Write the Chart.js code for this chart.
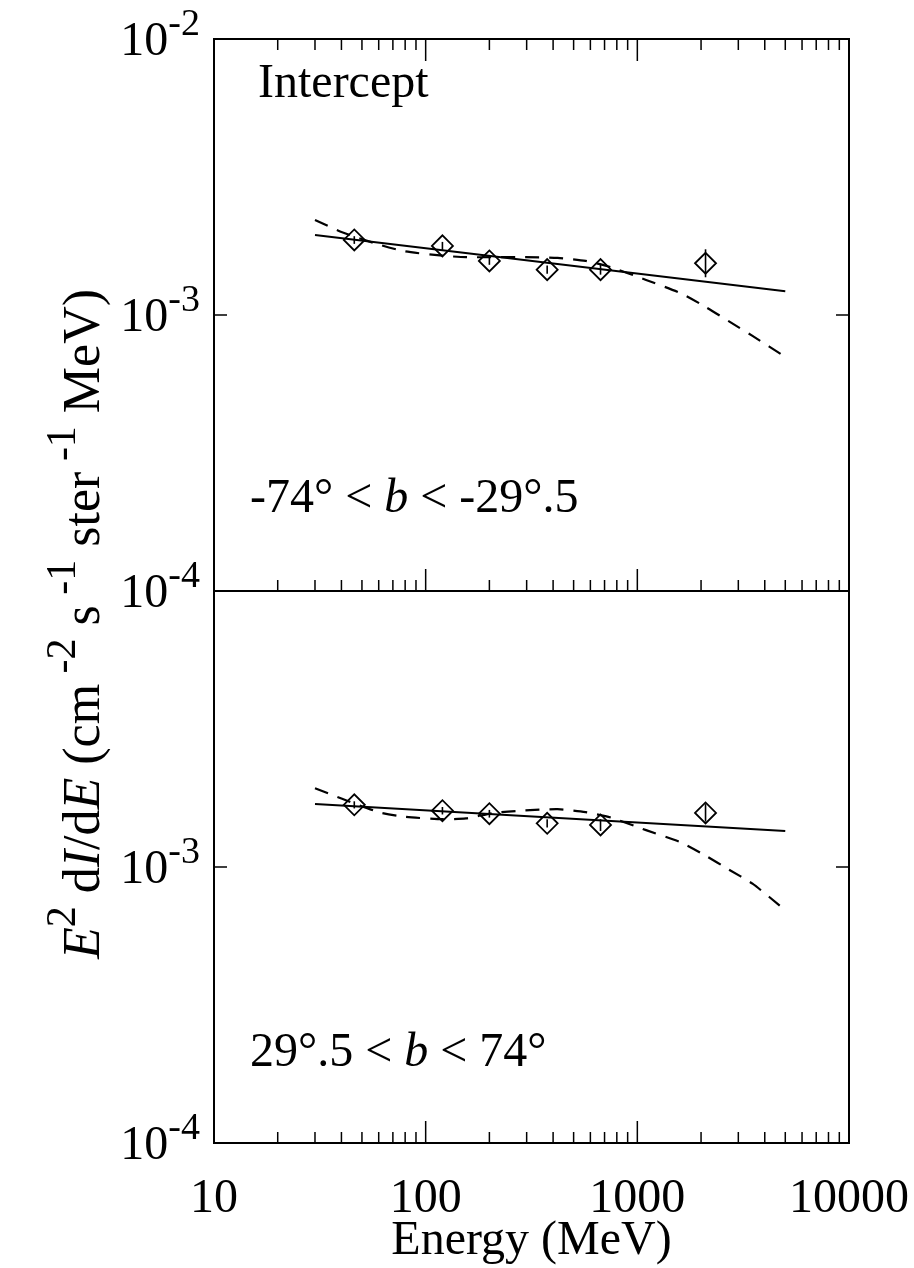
<!DOCTYPE html>
<html>
<head>
<meta charset="utf-8">
<script src="https://cdn.jsdelivr.net/npm/chart.js@4.4.0/dist/chart.umd.min.js"></script>
<style>
  html, body { margin: 0; padding: 0; background: #fff; }
  #wrap { position: relative; width: 914px; height: 1268px; }
  #wrap canvas { position: absolute; left: 0; top: 0; }
</style>
</head>
<body>
<div id="wrap">
  <canvas id="southChart" width="914" height="1268"></canvas>
  <canvas id="northChart" width="914" height="1268"></canvas>
</div>
<script>
// measured points (MeV, E^2 dI/dE)
const energies = [46, 120, 200, 375, 670, 2100];
const southFlux = [1.87e-3, 1.78e-3, 1.57e-3, 1.46e-3, 1.46e-3, 1.54e-3];
const southErrLow = [1.81e-3, 1.72e-3, 1.52e-3, 1.41e-3, 1.40e-3, 1.37e-3];
const southErrHigh = [1.93e-3, 1.84e-3, 1.62e-3, 1.51e-3, 1.52e-3, 1.73e-3];
const northFlux = [1.68e-3, 1.60e-3, 1.56e-3, 1.44e-3, 1.42e-3, 1.57e-3];
const northErrLow = [1.63e-3, 1.55e-3, 1.51e-3, 1.39e-3, 1.35e-3, 1.46e-3];
const northErrHigh = [1.73e-3, 1.65e-3, 1.61e-3, 1.49e-3, 1.49e-3, 1.69e-3];

// power-law fits
const fitEnergy = [30, 5000];
const southPowerLaw = [1.95e-3, 1.22e-3];
const northPowerLaw = [1.69e-3, 1.35e-3];

// model curves (dashed)
const modelEnergy = [30, 40, 60, 80, 120, 155, 210, 285, 420, 570, 750, 1100, 1600, 2100, 2700, 3500, 5000];
const southModel = [2.21e-3, 2.00e-3, 1.80e-3, 1.70e-3, 1.64e-3, 1.62e-3, 1.62e-3, 1.62e-3, 1.61e-3, 1.57e-3, 1.49e-3, 1.34e-3, 1.20e-3, 1.07e-3, 9.5e-4, 8.4e-4, 7.05e-4];
const northModel = [1.93e-3, 1.77e-3, 1.58e-3, 1.52e-3, 1.49e-3, 1.50e-3, 1.57e-3, 1.60e-3, 1.62e-3, 1.58e-3, 1.51e-3, 1.36e-3, 1.23e-3, 1.10e-3, 9.8e-4, 8.7e-4, 6.98e-4];

// axes
const xTickValues = [10, 100, 1000, 10000];
const xTickLabels = ['10', '100', '1000', '10000'];
const yTickValues = [1e-2, 1e-3, 1e-4];
const yTickExponents = ['-2', '-3', '-4'];

const SERIF = '"Liberation Serif", "Times New Roman", serif';

function fontFor(part, base, sup) {
  const size = part.sup ? sup : base;
  return (part.italic ? 'italic ' : '') + size + 'px ' + SERIF;
}

function richWidth(ctx, parts, base, sup) {
  let w = 0;
  parts.forEach(p => { ctx.font = fontFor(p, base, sup); w += ctx.measureText(p.text).width; });
  return w;
}

// draws a run of text pieces, superscripts raised
function drawRich(ctx, parts, x, y, align, base = 48, sup = 34, rise = 20) {
  let cx = x;
  if (align === 'right') cx -= richWidth(ctx, parts, base, sup);
  if (align === 'center') cx -= richWidth(ctx, parts, base, sup) / 2;
  ctx.textAlign = 'left';
  ctx.textBaseline = 'alphabetic';
  parts.forEach(p => {
    ctx.font = fontFor(p, base, sup);
    ctx.fillText(p.text, cx, p.sup ? y - rise : y);
    cx += ctx.measureText(p.text).width;
  });
}

function pts(xs, ys) {
  return xs.map((x, i) => ({ x: x, y: ys[i] }));
}

const errorBars = {
  id: 'errorBars',
  afterDatasetsDraw(chart) {
    const { ctx, scales: { x, y } } = chart;
    ctx.save();
    ctx.strokeStyle = '#000';
    ctx.lineWidth = 1.6;
    chart.data.datasets.forEach(ds => {
      if (!ds.errLow) return;
      ds.data.forEach((p, i) => {
        const px = x.getPixelForValue(p.x);
        ctx.beginPath();
        ctx.moveTo(px, y.getPixelForValue(ds.errLow[i]));
        ctx.lineTo(px, y.getPixelForValue(ds.errHigh[i]));
        ctx.stroke();
      });
    });
    ctx.restore();
  }
};

// frame, inward ticks and all the lettering
const frame = {
  id: 'frame',
  afterDraw(chart, args, opts) {
    const { ctx, chartArea: a, scales: { x, y } } = chart;
    ctx.save();
    ctx.strokeStyle = '#000';
    ctx.fillStyle = '#000';
    ctx.lineWidth = 2;
    ctx.strokeRect(a.left, a.top, a.right - a.left, a.bottom - a.top);

    ctx.lineWidth = 1.5;
    const xTick = (v, len) => {
      const px = x.getPixelForValue(v);
      ctx.beginPath();
      if (opts.topTicks) { ctx.moveTo(px, a.top); ctx.lineTo(px, a.top + len); }
      ctx.moveTo(px, a.bottom); ctx.lineTo(px, a.bottom - len);
      ctx.stroke();
    };
    for (let d = 10; d < 10000; d *= 10) {
      for (let m = 2; m <= 9; m++) xTick(d * m, 11);
      if (d > 10) xTick(d, 22);
    }
    const py = y.getPixelForValue(1e-3);
    ctx.beginPath();
    ctx.moveTo(a.left, py); ctx.lineTo(a.left + 13, py);
    ctx.moveTo(a.right, py); ctx.lineTo(a.right - 13, py);
    ctx.stroke();

    yTickValues.forEach((v, i) => {
      if (!opts.yLabels.includes(v)) return;
      drawRich(ctx, [{ text: '10' }, { text: yTickExponents[i], sup: true }],
        200, y.getPixelForValue(v) + 16, 'right', 48, 38, 20);
    });

    opts.notes.forEach(n => drawRich(ctx, n.parts, n.x, n.y, 'left'));

    if (opts.xLabels) {
      xTickValues.forEach((v, i) => {
        drawRich(ctx, [{ text: xTickLabels[i] }], x.getPixelForValue(v), 1212, 'center');
      });
      drawRich(ctx, [{ text: 'Energy (MeV)' }], (a.left + a.right) / 2, 1254, 'center');
    }

    if (opts.yTitle) {
      ctx.translate(99, 624);
      ctx.rotate(-Math.PI / 2);
      drawRich(ctx, [
        { text: 'E', italic: true }, { text: '2', sup: true },
        { text: ' d' }, { text: 'I', italic: true }, { text: '/d' }, { text: 'E', italic: true },
        { text: ' (cm' }, { text: ' -2', sup: true }, { text: ' s' }, { text: ' -1', sup: true },
        { text: ' ster' }, { text: ' -1', sup: true }, { text: ' MeV)' }
      ], 0, 0, 'center', 52, 42, 24);
    }
    ctx.restore();
  }
};

function makePanel(id, flux, errLow, errHigh, powerLaw, model, padding, frameOpts) {
  return new Chart(document.getElementById(id), {
    type: 'scatter',
    data: {
      datasets: [
        {
          label: 'data',
          data: pts(energies, flux),
          errLow: errLow,
          errHigh: errHigh,
          pointStyle: 'rectRot',
          pointRadius: 10.5,
          pointBorderWidth: 1.8,
          borderColor: '#000',
          backgroundColor: 'rgba(0,0,0,0)',
          showLine: false
        },
        {
          label: 'power law',
          data: pts(fitEnergy, powerLaw),
          showLine: true,
          pointRadius: 0,
          borderColor: '#000',
          borderWidth: 2
        },
        {
          label: 'model',
          data: pts(modelEnergy, model),
          showLine: true,
          pointRadius: 0,
          borderColor: '#000',
          borderWidth: 2.2,
          borderDash: [14, 10],
          tension: 0.2
        }
      ]
    },
    options: {
      responsive: false,
      animation: false,
      events: [],
      layout: { padding: padding },
      plugins: {
        legend: { display: false },
        tooltip: { enabled: false },
        frame: frameOpts
      },
      scales: {
        x: { type: 'logarithmic', min: 10, max: 10000, display: false },
        y: { type: 'logarithmic', min: 1e-4, max: 1e-2, display: false }
      }
    },
    plugins: [errorBars, frame]
  });
}

makePanel('southChart', southFlux, southErrLow, southErrHigh, southPowerLaw, southModel,
  { left: 214, right: 65, top: 39, bottom: 677 },
  {
    topTicks: true,
    yLabels: [1e-2, 1e-3, 1e-4],
    xLabels: false,
    yTitle: true,
    notes: [
      { x: 258, y: 97, parts: [{ text: 'Intercept' }] },
      { x: 250, y: 512, parts: [{ text: '-74° < ' }, { text: 'b', italic: true }, { text: ' < -29°.5' }] }
    ]
  });

makePanel('northChart', northFlux, northErrLow, northErrHigh, northPowerLaw, northModel,
  { left: 214, right: 65, top: 591, bottom: 125 },
  {
    topTicks: false,
    yLabels: [1e-3, 1e-4],
    xLabels: true,
    yTitle: false,
    notes: [
      { x: 250, y: 1066, parts: [{ text: '29°.5 < ' }, { text: 'b', italic: true }, { text: ' < 74°' }] }
    ]
  });
</script>
</body>
</html>
